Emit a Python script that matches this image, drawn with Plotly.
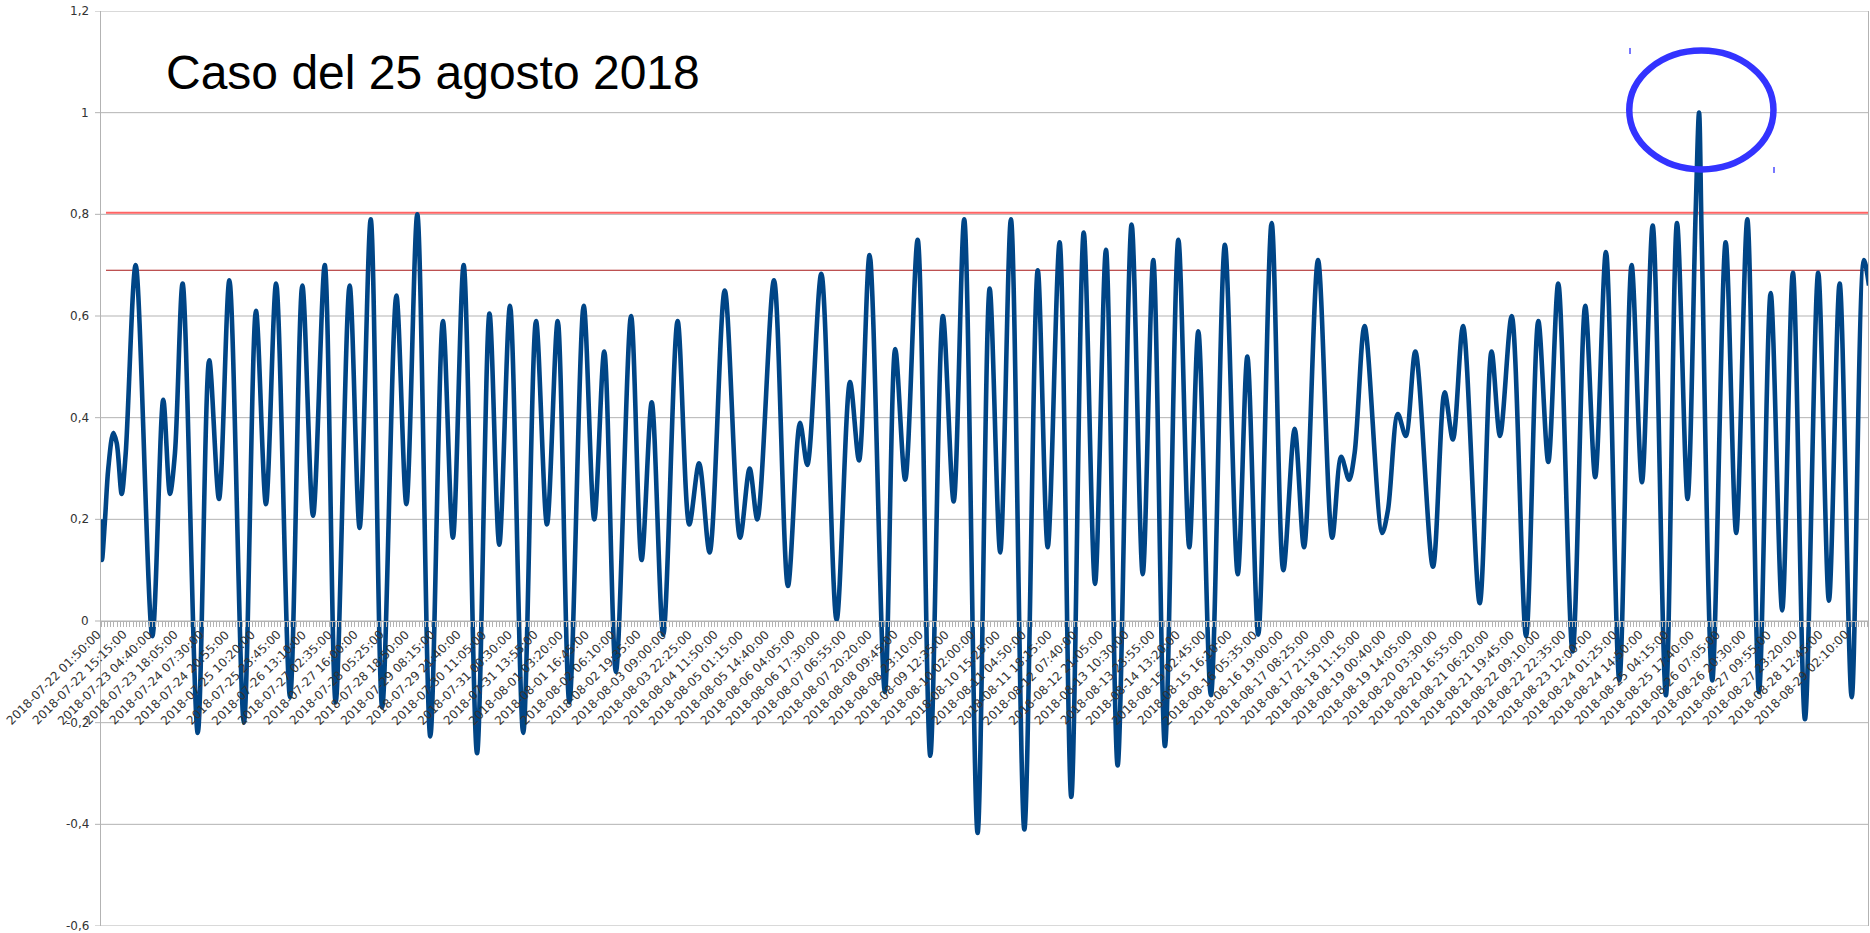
import pandas as pd
import plotly.graph_objects as go

# ---------------- data ----------------
START = "2018-07-22 01:50:00"

# hours elapsed since START for each turning point of the tide curve
hours = [0, 0.5, 2.1, 3.8, 6.4, 8.2, 10.8, 12.9, 18.1, 26.8, 32.5, 36.0, 38.6, 42.6, 50.5, 56.5, 61.6, 67.0, 74.6, 80.9, 86.1, 91.4, 98.7,
         105.1, 110.7, 116.8, 122.5, 129.8, 135.0, 140.8, 146.8, 154.2, 159.4, 165.1, 171.9, 178.5, 183.7, 189.3, 196.3, 202.8,
         207.9, 213.5, 220.4, 227.1, 232.8, 238.4, 244.5, 252.0, 257.5, 262.7, 268.8, 276.7, 282.2, 287.5, 293.5, 301.0, 307.1,
         312.2, 317.7, 325.6, 333.6, 338.6, 342.6, 351.3, 358.6, 364.9, 368.7, 376.0, 384.0, 391.0, 395.7, 401.2, 409.2,
         414.6, 419.8, 426.3, 432.9, 439.5, 445.1, 450.6, 457.6, 463.9, 469.4, 475.0, 482.0, 489.0, 494.2, 500.4, 506.5, 513.0,
         518.9, 524.6, 530.7, 538.0, 543.8, 549.3, 555.4, 562.4, 568.1, 572.8, 579.4, 586.7, 593.4, 598.4, 604.1, 611.1, 617.2,
         623.1, 628.0, 635.3, 642.7, 647.4, 651.5, 654.4, 659.6, 668.8, 671.8, 677.0, 681.1, 686.1, 695.3, 701.4, 705.7, 711.0, 719.7,
         725.9, 730.3, 736.4, 743.9, 750.3, 755.5, 760.7, 768.2, 774.8, 780.0, 785.6, 792.6, 799.0, 804.4, 810.0, 816.9, 822.7,
         828.2, 832.4, 834.2, 835.6, 841.1, 848.1, 853.6, 859.4, 865.5, 871.6, 877.6, 883.2, 889.5, 896.4, 902.0, 907.6, 913.9, 920.3, 922.9]

level = [0.20, 0.12, 0.20, 0.30, 0.37, 0.35, 0.25, 0.33, 0.70, -0.03, 0.435, 0.25, 0.33, 0.664, -0.22, 0.513, 0.24, 0.67, -0.20, 0.61, 0.23, 0.664, -0.15,
         0.66, 0.207, 0.70, -0.16, 0.66, 0.183, 0.79, -0.17, 0.64, 0.23, 0.80, -0.227, 0.59, 0.164, 0.70, -0.26, 0.605,
         0.15, 0.62, -0.22, 0.59, 0.19, 0.59, -0.16, 0.62, 0.20, 0.53, -0.10, 0.60, 0.12, 0.43, -0.027, 0.59, 0.19,
         0.31, 0.135, 0.65, 0.164, 0.30, 0.20, 0.67, 0.069, 0.39, 0.307, 0.683, 0.002, 0.47, 0.316, 0.72, -0.14,
         0.535, 0.278, 0.75, -0.265, 0.60, 0.235, 0.79, -0.417, 0.654, 0.135, 0.79, -0.41, 0.69, 0.145, 0.745, -0.346, 0.764,
         0.073, 0.73, -0.284, 0.78, 0.092, 0.71, -0.246, 0.75, 0.145, 0.57, -0.146, 0.74, 0.092, 0.52, -0.027, 0.783, 0.10,
         0.378, 0.145, 0.71, 0.164, 0.323, 0.278, 0.33, 0.58, 0.173, 0.218, 0.407, 0.364, 0.53, 0.107, 0.45, 0.357, 0.58, 0.035,
         0.53, 0.364, 0.60, -0.03, 0.59, 0.313, 0.664, -0.06, 0.62, 0.283, 0.726, -0.117, 0.70, 0.273, 0.778, -0.146, 0.783,
         0.24, 0.80, 1.00, 0.75, -0.117, 0.745, 0.173, 0.79, -0.14, 0.645, 0.021, 0.685, -0.193, 0.685, 0.04, 0.664, -0.15, 0.71, 0.66]

# threshold lines
threshold_high = 0.803
threshold_low = 0.69

# axis labels
x_tick_labels = [
    "2018-07-22 01:50:00", "2018-07-22 15:15:00", "2018-07-23 04:40:00", "2018-07-23 18:05:00",
    "2018-07-24 07:30:00", "2018-07-24 20:55:00", "2018-07-25 10:20:00", "2018-07-25 23:45:00",
    "2018-07-26 13:10:00", "2018-07-27 02:35:00", "2018-07-27 16:00:00", "2018-07-28 05:25:00",
    "2018-07-28 18:50:00", "2018-07-29 08:15:00", "2018-07-29 21:40:00", "2018-07-30 11:05:00",
    "2018-07-31 00:30:00", "2018-07-31 13:55:00", "2018-08-01 03:20:00", "2018-08-01 16:45:00",
    "2018-08-02 06:10:00", "2018-08-02 19:35:00", "2018-08-03 09:00:00", "2018-08-03 22:25:00",
    "2018-08-04 11:50:00", "2018-08-05 01:15:00", "2018-08-05 14:40:00", "2018-08-06 04:05:00",
    "2018-08-06 17:30:00", "2018-08-07 06:55:00", "2018-08-07 20:20:00", "2018-08-08 09:45:00",
    "2018-08-08 23:10:00", "2018-08-09 12:35:00", "2018-08-10 02:00:00", "2018-08-10 15:25:00",
    "2018-08-11 04:50:00", "2018-08-11 18:15:00", "2018-08-12 07:40:00", "2018-08-12 21:05:00",
    "2018-08-13 10:30:00", "2018-08-13 23:55:00", "2018-08-14 13:20:00", "2018-08-15 02:45:00",
    "2018-08-15 16:10:00", "2018-08-16 05:35:00", "2018-08-16 19:00:00", "2018-08-17 08:25:00",
    "2018-08-17 21:50:00", "2018-08-18 11:15:00", "2018-08-19 00:40:00", "2018-08-19 14:05:00",
    "2018-08-20 03:30:00", "2018-08-20 16:55:00", "2018-08-21 06:20:00", "2018-08-21 19:45:00",
    "2018-08-22 09:10:00", "2018-08-22 22:35:00", "2018-08-23 12:00:00", "2018-08-24 01:25:00",
    "2018-08-24 14:50:00", "2018-08-25 04:15:00", "2018-08-25 17:40:00", "2018-08-26 07:05:00",
    "2018-08-26 20:30:00", "2018-08-27 09:55:00", "2018-08-27 23:20:00", "2018-08-28 12:45:00",
    "2018-08-29 02:10:00",
]
y_tick_values = [-0.6, -0.4, -0.2, 0, 0.2, 0.4, 0.6, 0.8, 1.0, 1.2]
y_tick_labels = ["-0,6", "-0,4", "-0,2", "0", "0,2", "0,4", "0,6", "0,8", "1", "1,2"]

title_text = "Caso del 25 agosto 2018"

# ---------------- figure ----------------
t0 = pd.Timestamp(START)
times = t0 + pd.to_timedelta(hours, unit="h")
x_end = t0 + pd.Timedelta(hours=922.4)

GRID = "#b3b3b3"
TXT = "#333333"
PLOT_W = 1767
PLOT_H = 915
AXIS_POS = 1 / 3   # y = 0 sits a third of the way up the plot area

fig = go.Figure()
fig.add_trace(go.Scatter(
    x=times, y=level, mode="lines",
    line=dict(color="#004586", width=4.6, shape="spline", smoothing=0.9),
    hoverinfo="skip", showlegend=False,
))

fig.update_layout(
    width=1870, height=933,
    margin=dict(l=101, r=2, t=11, b=7, pad=0),
    paper_bgcolor="white", plot_bgcolor="white",
    font=dict(family="DejaVu Sans", size=12, color=TXT),
    showlegend=False,
    xaxis=dict(
        type="date", range=[t0, x_end],
        anchor="free", position=AXIS_POS,
        showline=True, linecolor=GRID, linewidth=1,
        showgrid=False, zeroline=False,
        tickmode="array", tickvals=x_tick_labels, showticklabels=False,
        ticks="outside", ticklen=5, tickcolor=GRID, tickwidth=1,
        minor=dict(tickmode="linear", tick0=START, dtick=6037500,
                   ticks="outside", ticklen=5, tickcolor=GRID, showgrid=False),
        automargin=False,
    ),
    yaxis=dict(
        range=[-0.6, 1.2],
        showgrid=False, showticklabels=False, ticks="",
        showline=True, mirror=True, linecolor=GRID, linewidth=1,
        zeroline=False, automargin=False,
    ),
)

# horizontal grid lines (with the small outside tick) and y tick labels
for v, lab in zip(y_tick_values, y_tick_labels):
    fig.add_shape(type="line", xref="paper", yref="y",
                  x0=-6 / PLOT_W, x1=1, y0=v, y1=v,
                  line=dict(color=GRID, width=1), layer="below")
    fig.add_annotation(text=lab, xref="paper", yref="y",
                       x=-10 / PLOT_W, y=v, xanchor="right", yanchor="middle",
                       showarrow=False,
                       font=dict(family="DejaVu Sans", size=12, color=TXT))

# slanted date labels under the y = 0 axis line
for lab in x_tick_labels:
    fig.add_annotation(text=lab, xref="x", yref="paper",
                       x=lab, y=AXIS_POS - 4 / PLOT_H,
                       xanchor="right", yanchor="top", xshift=5,
                       textangle=-45, showarrow=False,
                       font=dict(family="DejaVu Sans", size=12, color=TXT))

# threshold lines
fig.add_shape(type="line", xref="paper", yref="y", x0=5 / PLOT_W, x1=1,
              y0=threshold_high, y1=threshold_high,
              line=dict(color="#ff6464", width=2), layer="below")
fig.add_shape(type="line", xref="paper", yref="y", x0=5 / PLOT_W, x1=1,
              y0=threshold_low, y1=threshold_low,
              line=dict(color="#a81818", width=1), layer="below")

# highlight ellipse around the peak
fig.add_shape(type="circle", xref="paper", yref="paper",
              x0=0.8649, x1=0.9465, y0=0.8268, y1=0.9567,
              line=dict(color="#3333ff", width=6.5), layer="above")
# small selection handle remnants
fig.add_shape(type="line", xref="paper", yref="paper",
              x0=0.8653, x1=0.8653, y0=0.953, y1=0.9596,
              line=dict(color="#7777ff", width=2))
fig.add_shape(type="line", xref="paper", yref="paper",
              x0=0.9468, x1=0.9468, y0=0.8230, y1=0.8295,
              line=dict(color="#7777ff", width=2))

fig.add_annotation(text=title_text, xref="paper", yref="paper",
                   x=0.0354, y=0.9333, xanchor="left", yanchor="middle",
                   showarrow=False,
                   font=dict(family="Liberation Sans", size=48, color="black"))

fig.write_html("out.html", config={"displayModeBar": False},
               post_script="document.body.style.margin='0';document.body.style.overflow='hidden';")
